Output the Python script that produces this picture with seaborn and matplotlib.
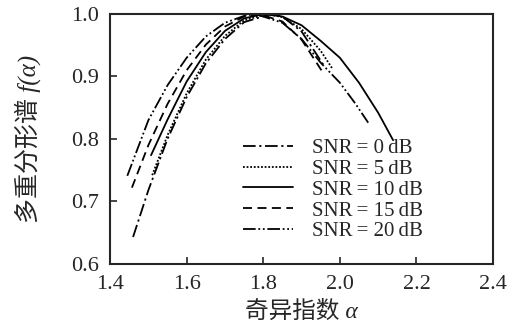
import matplotlib
matplotlib.use("Agg")
import matplotlib.pyplot as plt
import seaborn as sns
import pandas as pd

sns.set_style("ticks")
plt.rcParams['font.family'] = ['Liberation Serif', 'Noto Sans CJK SC']

labels = ["SNR\u2009= 0\u2009dB", "SNR\u2009= 5\u2009dB", "SNR\u2009= 10\u2009dB",
          "SNR\u2009= 15\u2009dB", "SNR\u2009= 20\u2009dB"]

alpha_0 = [1.46, 1.50, 1.55, 1.60, 1.65, 1.70, 1.75, 1.82, 1.85, 1.90, 1.96]
f_0 = [0.643, 0.718, 0.800, 0.867, 0.921, 0.960, 0.987, 1.000, 0.996, 0.972, 0.916]

alpha_5 = [1.51, 1.55, 1.60, 1.65, 1.70, 1.75, 1.81, 1.85, 1.90, 1.95, 1.98]
f_5 = [0.742, 0.806, 0.873, 0.927, 0.965, 0.990, 1.000, 0.995, 0.976, 0.941, 0.913]

alpha_10 = [1.507, 1.55, 1.60, 1.65, 1.70, 1.75, 1.80, 1.85, 1.90, 1.95, 2.00, 2.05, 2.10, 2.139]
f_10 = [0.774, 0.831, 0.892, 0.939, 0.973, 0.993, 1.000, 0.996, 0.982, 0.957, 0.930, 0.890, 0.842, 0.798]

alpha_15 = [1.457, 1.50, 1.55, 1.60, 1.65, 1.70, 1.75, 1.79, 1.85, 1.90, 1.956]
f_15 = [0.722, 0.790, 0.856, 0.910, 0.951, 0.980, 0.996, 1.000, 0.988, 0.959, 0.906]

alpha_20 = [1.445, 1.50, 1.55, 1.60, 1.65, 1.70, 1.75, 1.78, 1.85, 1.90, 1.95, 2.00, 2.04, 2.074]
f_20 = [0.741, 0.830, 0.886, 0.930, 0.964, 0.986, 0.997, 1.000, 0.986, 0.960, 0.922, 0.890, 0.857, 0.826]

x_ticks = [1.4, 1.6, 1.8, 2.0, 2.2, 2.4]
y_ticks = [0.6, 0.7, 0.8, 0.9, 1.0]

series = [(alpha_0, f_0), (alpha_5, f_5), (alpha_10, f_10), (alpha_15, f_15), (alpha_20, f_20)]
styles = [(0, (7, 2, 1.2, 2)), (0, (1, 1)), '-', (0, (5, 3)), (0, (7, 1.5, 1, 1.5, 1, 1.5))]

fig = plt.figure(figsize=(5.12, 3.34), dpi=100)
ax = fig.add_axes([0.215, 0.21, 0.748, 0.748])

for (a, f), lab, ls in zip(series, labels, styles):
    df = pd.DataFrame({"alpha": a, "f": f})
    sns.lineplot(data=df, x="alpha", y="f", ax=ax, color="black", lw=1.3,
                 linestyle=ls, label=lab, sort=False)

ax.set_xlim(1.4, 2.4)
ax.set_ylim(0.6, 1.0)
ax.set_xticks(x_ticks)
ax.set_yticks(y_ticks)
ax.set_xticklabels([f"{v:.1f}" for v in x_ticks])
ax.set_yticklabels([f"{v:.1f}" for v in y_ticks])
ax.tick_params(direction='in', length=5, width=1.2, labelsize=16)
ax.tick_params(axis='x', pad=8)
ax.tick_params(axis='y', pad=8)
for s in ax.spines.values():
    s.set_linewidth(1.5)

ax.set_xlabel('奇异指数 α', fontsize=17, labelpad=5, style='italic')
ax.set_ylabel('多重分形谱 f(α)', fontsize=18, labelpad=22, style='italic')

leg = ax.legend(loc='lower right', bbox_to_anchor=(0.817, 0.09), frameon=False,
                fontsize=15, handlelength=2.4, labelspacing=0.06, handletextpad=0.9,
                borderpad=0.0, borderaxespad=0.0)

fig.savefig("out.png", dpi=100)
